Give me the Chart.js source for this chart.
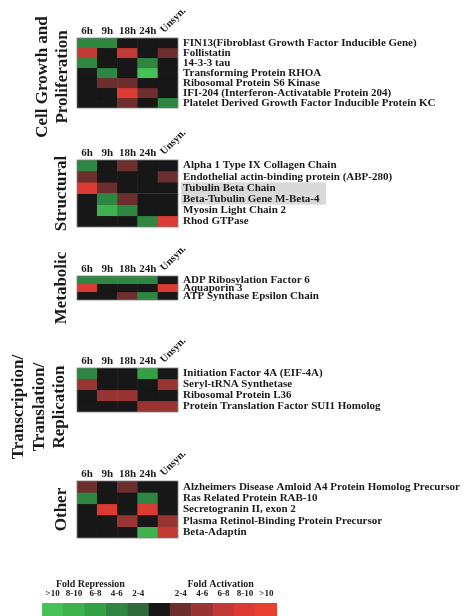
<!DOCTYPE html>
<html>
<head>
<meta charset="utf-8">
<script src="https://cdn.jsdelivr.net/npm/chart.js@4"></script>
<style>
  html, body { margin: 0; padding: 0; background: #fff; width: 465px; height: 616px; overflow: hidden; }
  canvas { position: absolute; left: 0; }
</style>
</head>
<body>
<script>
// time points (columns)
const timePoints = ['6h', '9h', '18h', '24h', 'Unsyn.'];

// fold levels: negative = repression (green), positive = activation (red), 0 = no change
const growthGenes = [
  'FIN13(Fibroblast Growth Factor Inducible Gene)',
  'Follistatin',
  '14-3-3 tau',
  'Transforming Protein RHOA',
  'Ribosomal Protein S6 Kinase',
  'IFI-204 (Interferon-Activatable Protein 204)',
  'Platelet Derived Growth Factor Inducible Protein KC'
];
const growthLevels = [
  [-2, -2, 0, 0, 0],
  [3, 0, 3, 0, 1],
  [-2, 0, 0, -2, 0],
  [0, -2, 0, -5, 0],
  [0, 1, 1, 0, 0],
  [0, 0, 4, 1, 0],
  [0, 0, 1, 0, -2]
];

const structGenes = [
  'Alpha 1 Type IX Collagen Chain',
  'Endothelial actin-binding protein (ABP-280)',
  'Tubulin Beta Chain',
  'Beta-Tubulin Gene M-Beta-4',
  'Myosin Light Chain 2',
  'Rhod GTPase'
];
const structLevels = [
  [-2, 0, 1, 0, 0],
  [1, 0, 0, 0, 1],
  [4, 1, 0, 0, 0],
  [0, -2, 1, 0, 0],
  [0, -4, -2, 0, 0],
  [0, 0, 0, -2, 4]
];

const metabGenes = [
  'ADP Ribosylation Factor 6',
  'Aquaporin 3',
  'ATP Synthase Epsilon Chain'
];
const metabLevels = [
  [-2, -2, -2, -2, 0],
  [4, 0, 0, 0, 4],
  [0, 0, 1, -2, 0]
];

const transGenes = [
  'Initiation Factor 4A (EIF-4A)',
  'Seryl-tRNA Synthetase',
  'Ribosomal Protein L36',
  'Protein Translation Factor SUI1 Homolog'
];
const transLevels = [
  [-2, 0, 0, -3, 0],
  [2, 0, 0, 0, 2],
  [0, 2, 2, 0, 0],
  [0, 0, 0, 2, 2]
];

const otherGenes = [
  'Alzheimers Disease Amloid A4 Protein Homolog Precursor',
  'Ras Related Protein RAB-10',
  'Secretogranin II, exon 2',
  'Plasma Retinol-Binding Protein Precursor',
  'Beta-Adaptin'
];
const otherLevels = [
  [1, 0, 1, 0, 0],
  [-2, 0, 0, -2, 0],
  [0, 4, 0, 4, 0],
  [0, 0, 2, 0, 2],
  [0, 0, 0, -4, 3]
];

// colour key
const keyRanges = ['>10', '8-10', '6-8', '4-6', '2-4', '', '2-4', '4-6', '6-8', '8-10', '>10'];
const keyLevels = [-5, -4, -3, -2, -1, 0, 1, 2, 3, 4, 5];

// palette, index = level + 5
const palette = ['#48c058', '#3fb24e', '#34a046', '#2e8640', '#2e6a3a', '#171717',
                 '#6c2f2e', '#983533', '#c23a35', '#dc3b34', '#e9402f'];

const serif = '"Liberation Serif", "DejaVu Serif", serif';
const ink = '#1a1a1a';
const PAD = 60; // room above/below each grid for headers and side titles

function colorsFor(row) {
  return row.map(lv => palette[lv + 5]);
}

function makeCanvas(top, height) {
  const c = document.createElement('canvas');
  c.width = 465;
  c.height = height;
  c.style.top = top + 'px';
  document.body.appendChild(c);
  return c.getContext('2d');
}

const headerPlugin = {
  id: 'headers',
  beforeDraw(chart, args, opts) {
    const { ctx, chartArea, scales } = chart;
    // grey highlight behind some gene names
    if (opts.highlight) {
      const y0 = scales.y.getPixelForValue(opts.highlight[0]);
      const y1 = scales.y.getPixelForValue(opts.highlight[1]);
      ctx.save();
      ctx.fillStyle = '#d9d9d9';
      ctx.fillRect(chartArea.right + 3, y0, 145, y1 - y0);
      ctx.restore();
    }
  },
  afterDraw(chart, args, opts) {
    const { ctx, chartArea, scales } = chart;
    ctx.save();
    ctx.fillStyle = ink;
    // thin outline round the grid
    ctx.strokeStyle = '#808080';
    ctx.lineWidth = 0.8;
    ctx.strokeRect(chartArea.left, chartArea.top, chartArea.right - chartArea.left, chartArea.bottom - chartArea.top);
    // column headers
    ctx.font = 'bold 11px ' + serif;
    ctx.textAlign = 'center';
    ctx.textBaseline = 'bottom';
    for (let i = 0; i < 4; i++) {
      ctx.fillText(timePoints[i], scales.x.getPixelForValue(i), chartArea.top - 1);
    }
    // last header is slanted
    ctx.font = 'bold 10.5px ' + serif;
    ctx.translate(scales.x.getPixelForValue(4) - 2, chartArea.top - 3);
    ctx.rotate(-Math.PI / 4);
    ctx.textAlign = 'left';
    ctx.fillText(timePoints[4], 0, 0);
    ctx.restore();
    // group title, rotated
    ctx.save();
    ctx.fillStyle = ink;
    ctx.font = 'bold ' + opts.titleSize + 'px ' + serif;
    ctx.textAlign = 'center';
    ctx.textBaseline = 'middle';
    const cy = (chartArea.top + chartArea.bottom) / 2 + (opts.titleShift || 0);
    opts.title.forEach((line, i) => {
      ctx.save();
      ctx.translate(opts.titleX[i], cy);
      ctx.rotate(-Math.PI / 2);
      ctx.fillText(line, 0, 0);
      ctx.restore();
    });
    ctx.restore();
  }
};

function heatBlock(gridTop, rowH, genes, levels, title, titleX, extra) {
  const gridH = rowH * genes.length;
  const ctx = makeCanvas(gridTop - PAD, Math.round(gridH) + 2 * PAD);
  new Chart(ctx, {
    type: 'bar',
    data: {
      labels: timePoints,
      datasets: genes.map((g, i) => ({
        label: g,
        data: levels[i].map(() => 1),
        backgroundColor: colorsFor(levels[i]),
        borderColor: colorsFor(levels[i]),
        borderWidth: 0.6,
        borderSkipped: false,
        barPercentage: 1,
        categoryPercentage: 1
      }))
    },
    options: {
      responsive: false,
      animation: false,
      layout: { padding: { left: 77, top: PAD, bottom: PAD, right: 0 } },
      plugins: {
        legend: { display: false },
        tooltip: { enabled: false },
        headers: Object.assign({ title: title, titleX: titleX, titleSize: 17 }, extra || {})
      },
      scales: {
        x: { display: false, stacked: true },
        y: {
          position: 'right',
          stacked: true,
          min: 0,
          max: genes.length,
          reverse: true,
          grid: { display: false, drawTicks: false, tickLength: 0 },
          border: { display: false },
          afterBuildTicks(s) { s.ticks = genes.map((g, i) => ({ value: i + 0.5 })); },
          ticks: {
            autoSkip: false,
            padding: 5,
            color: ink,
            font: { family: serif, weight: 'bold', size: 11 },
            callback: v => genes[Math.floor(v)]
          },
          afterFit(s) {
            s.width = 287;
            s.paddingTop = 0;
            s.paddingBottom = 0;
          }
        }
      }
    },
    plugins: [headerPlugin]
  });
}

heatBlock(38, 10, growthGenes, growthLevels, ['Cell Growth and', 'Proliferation'], [43, 63], { titleShift: 4 });
heatBlock(160, 11.2, structGenes, structLevels, ['Structural'], [62], { highlight: [2, 4] });
heatBlock(276, 8, metabGenes, metabLevels, ['Metabolic'], [62]);
heatBlock(368, 11, transGenes, transLevels, ['Transcription/', 'Translation/', 'Replication'], [19, 40, 60], { titleShift: 17 });
heatBlock(481, 11.4, otherGenes, otherLevels, ['Other'], [62]);

// colour key at the bottom
const keyPlugin = {
  id: 'keyTitles',
  afterDraw(chart) {
    const { ctx, chartArea, scales } = chart;
    ctx.save();
    ctx.fillStyle = ink;
    ctx.textAlign = 'center';
    ctx.textBaseline = 'bottom';
    ctx.font = 'bold 9px ' + serif;
    keyRanges.forEach((r, i) => ctx.fillText(r, scales.x.getPixelForValue(i), chartArea.top - 5));
    ctx.font = 'bold 10px ' + serif;
    ctx.textBaseline = 'middle';
    ctx.fillText('Fold Repression', scales.x.getPixelForValue(2) - 5, chartArea.top - 19);
    ctx.fillText('Fold Activation', scales.x.getPixelForValue(8) - 3, chartArea.top - 19);
    ctx.restore();
  }
};

const keyCtx = makeCanvas(560, 80);
new Chart(keyCtx, {
  type: 'bar',
  data: {
    labels: keyRanges,
    datasets: [{
      data: keyLevels.map(() => 1),
      backgroundColor: keyLevels.map(lv => palette[lv + 5]),
      borderColor: keyLevels.map(lv => palette[lv + 5]),
      borderWidth: 0.6,
      borderSkipped: false,
      barPercentage: 1,
      categoryPercentage: 1
    }]
  },
  options: {
    responsive: false,
    animation: false,
    layout: { padding: { left: 42, right: 188, top: 43, bottom: 0 } },
    plugins: { legend: { display: false }, tooltip: { enabled: false } },
    scales: {
      x: { display: false },
      y: { display: false, min: 0, max: 1 }
    }
  },
  plugins: [keyPlugin]
});
</script>
</body>
</html>
